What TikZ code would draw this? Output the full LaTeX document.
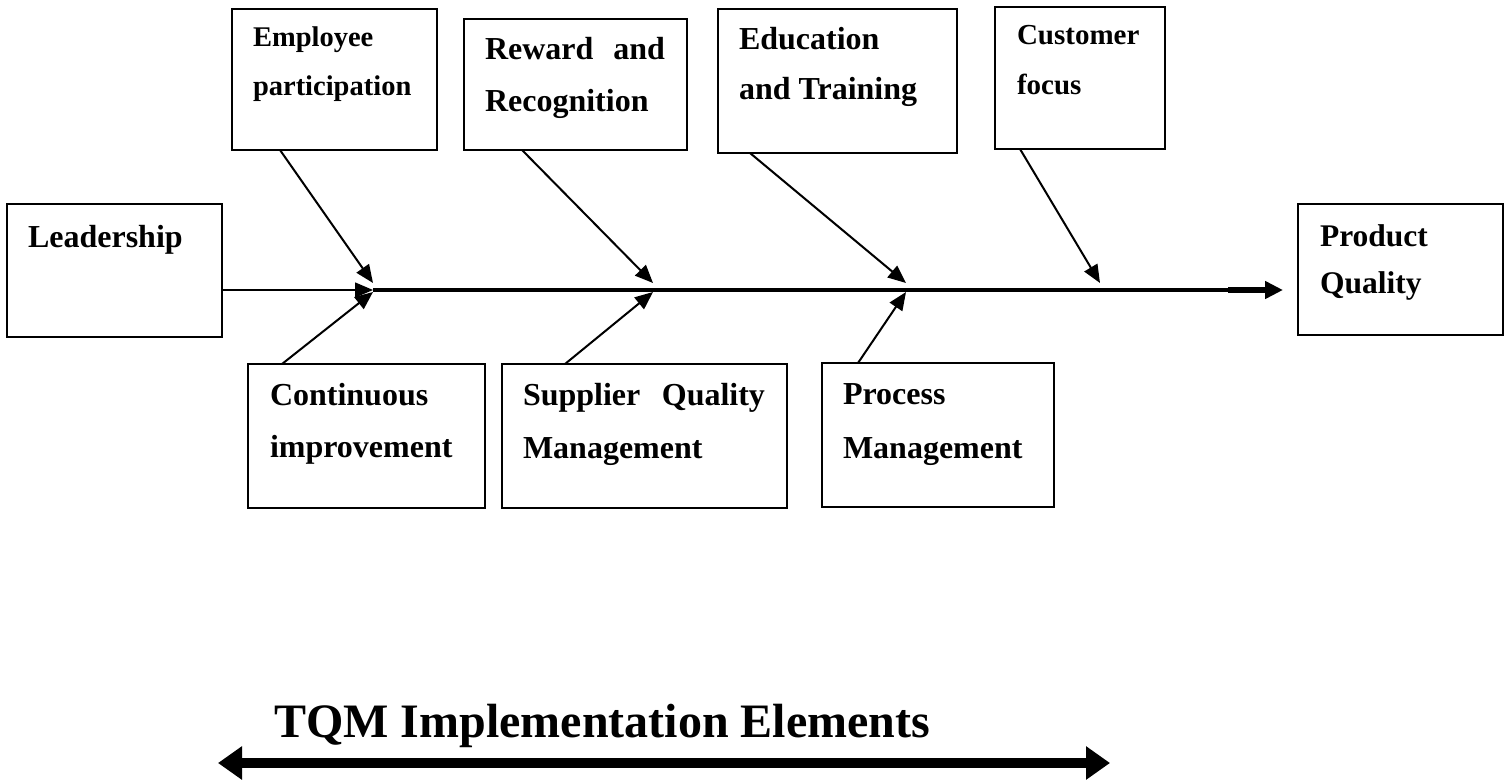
\documentclass[tikz,border=0pt]{standalone}
\usepackage{fontspec}
\setmainfont{Liberation Serif}
\usetikzlibrary{arrows.meta,calc}
% #1 width, #2 height, #3 left pad, #4 first baseline offset, #5 font size, #6 baselineskip, #7 right pad, #8 text
\newcommand{\bxtext}[8]{\parbox[t][#2pt][t]{#1pt}{\fontsize{#5}{#6}\selectfont\bfseries
  \leftskip=#3pt\relax\rightskip=#7pt\relax\parindent=0pt\rule{0pt}{#4pt}#8}}
\begin{document}
\begin{tikzpicture}[x=1pt,y=-1pt,
  fbox/.style={draw, line width=2pt, inner sep=0pt, outer sep=0pt, anchor=north west},
  branch/.style={line width=2pt, -{Triangle[length=18pt,width=15pt]}},
  spine/.style={line width=3.5pt},
  title/.style={font=\fontsize{48}{56}\selectfont\bfseries, inner sep=0pt, anchor=base west}]
\useasboundingbox (0,0) rectangle (1511,781);

% boxes
\node[fbox] (emp) at (232,9) {\bxtext{205}{141}{21}{38}{28.5}{49}{0}{Employee\\participation}};
\node[fbox] (rew) at (464,19) {\bxtext{223}{131}{21}{41}{32}{52}{22}{Reward\hfill and\\Recognition}};
\node[fbox] (edu) at (718,9) {\bxtext{239}{144}{21}{41}{32}{50}{0}{Education\\and Training}};
\node[fbox] (cus) at (995,7) {\bxtext{170}{142}{22}{38}{29}{50}{0}{Customer\\focus}};
\node[fbox] (lead) at (7,204) {\bxtext{215}{133}{21}{43}{32}{52}{0}{Leadership}};
\node[fbox] (pq) at (1298,204) {\bxtext{205}{131}{22}{42}{31.5}{47}{0}{Product\\Quality}};
\node[fbox] (con) at (248,364) {\bxtext{237}{144}{22}{41}{32}{52}{0}{Continuous\\improvement}};
\node[fbox] (sup) at (502,364) {\bxtext{285}{144}{21}{41}{32}{53}{22}{Supplier\hfill Quality\\Management}};
\node[fbox] (pro) at (822,363) {\bxtext{232}{144}{21}{41}{32}{54}{0}{Process\\Management}};

% spine junctions
\coordinate (j1) at (373,290);
\coordinate (j2) at (653,290);
\coordinate (j3) at (906,290);
\coordinate (j4) at (1100,290);
\coordinate (k) at (1228,290);

% spine
\draw[line width=1.5pt, -{Triangle[length=18pt,width=15pt]}] (lead.east |- j1) -- (j1);
\draw[spine] (j1) -- (k);
\draw[line width=6pt, -{Triangle[length=18pt,width=17pt]}, shorten >=15pt] (k) -- (pq.west |- k);

% branches
\draw[branch] ($(emp.south west)+(48,0)$) -- ($(j1)+(0,-7)$);
\draw[branch] ($(rew.south west)+(58,0)$) -- ($(j2)+(0,-7)$);
\draw[branch] ($(edu.south west)+(32,0)$) -- ($(j3)+(0,-7)$);
\draw[branch] ($(cus.south west)+(25,0)$) -- ($(j4)+(0,-7)$);
\draw[branch] ($(con.north west)+(34,0)$) -- ($(j1)+(0,2)$);
\draw[branch] ($(sup.north west)+(63,0)$) -- ($(j2)+(0,2)$);
\draw[branch] ($(pro.north west)+(36,0)$) -- ($(j3)+(0,2)$);

% title and double arrow
\node[title] (ttl) at (274,737) {TQM Implementation Elements};
\coordinate (bl) at (218,763);
\coordinate (br) at (1110,763);
\draw[line width=10pt, {Triangle[length=24pt,width=32pt]}-{Triangle[length=24pt,width=32pt]}] (bl) -- (br);
\end{tikzpicture}
\end{document}
